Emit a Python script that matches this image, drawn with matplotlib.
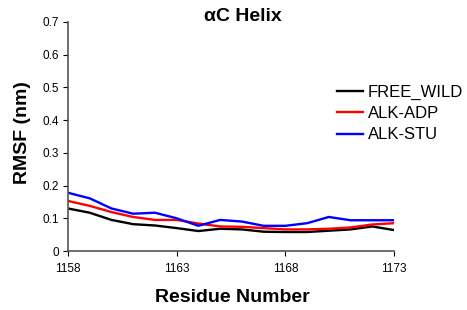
import matplotlib
matplotlib.use("Agg")
import matplotlib.pyplot as plt

plt.rcParams['font.family'] = ['Liberation Sans', 'DejaVu Sans']

residues = list(range(1158, 1174))
free_wild = [0.130, 0.117, 0.095, 0.082, 0.078, 0.070, 0.061, 0.068, 0.066, 0.059, 0.058, 0.058, 0.062, 0.066, 0.075, 0.064]
alk_adp   = [0.153, 0.138, 0.119, 0.104, 0.095, 0.095, 0.084, 0.075, 0.074, 0.070, 0.066, 0.066, 0.068, 0.072, 0.081, 0.085]
alk_stu   = [0.178, 0.161, 0.130, 0.114, 0.117, 0.100, 0.077, 0.095, 0.090, 0.077, 0.077, 0.085, 0.104, 0.094, 0.094, 0.094]
xticks = [1158, 1163, 1168, 1173]
yticks = [0, 0.1, 0.2, 0.3, 0.4, 0.5, 0.6, 0.7]
ytick_labels = ["0", "0.1", "0.2", "0.3", "0.4", "0.5", "0.6", "0.7"]

W, H = 467, 310
fig = plt.figure(figsize=(W/100, H/100), dpi=100)
ax = fig.add_axes([68/W, 1-251/H, (394-68)/W, (251-22)/H])

ax.plot(residues, free_wild, color='black', lw=1.7, label='FREE_WILD')
ax.plot(residues, alk_adp, color='red', lw=1.7, label='ALK-ADP')
ax.plot(residues, alk_stu, color='blue', lw=1.7, label='ALK-STU')

ax.set_xlim(1158, 1173)
ax.set_ylim(0, 0.7)
ax.set_xticks(xticks)
ax.set_yticks(yticks)
ax.set_yticklabels(ytick_labels)
ax.tick_params(labelsize=8.5, length=3.5, width=0.8, direction='out')
ax.tick_params(axis='x', pad=5)
ax.tick_params(axis='y', pad=3)
for s in ['top', 'right']:
    ax.spines[s].set_visible(False)
for s in ['left', 'bottom']:
    ax.spines[s].set_color('#555555')
    ax.spines[s].set_linewidth(1.2)

fig.text(243/W, 1-16.5/H, 'αC Helix', fontsize=14, fontweight='bold', ha='center', va='center')
fig.text(232/W, 1-297/H, 'Residue Number', fontsize=14, fontweight='bold', ha='center', va='center')
fig.text(23/W, 1-133/H, 'RMSF (nm)', fontsize=14, fontweight='bold', ha='center', va='center', rotation=90)

leg = ax.legend(loc='center left', bbox_to_anchor=(337/W, 1-113.5/H), bbox_transform=fig.transFigure,
                frameon=False, fontsize=12, handlelength=1.55, handletextpad=0.3, labelspacing=0.38,
                borderaxespad=0, borderpad=0)

fig.savefig('out.png', dpi=100)
